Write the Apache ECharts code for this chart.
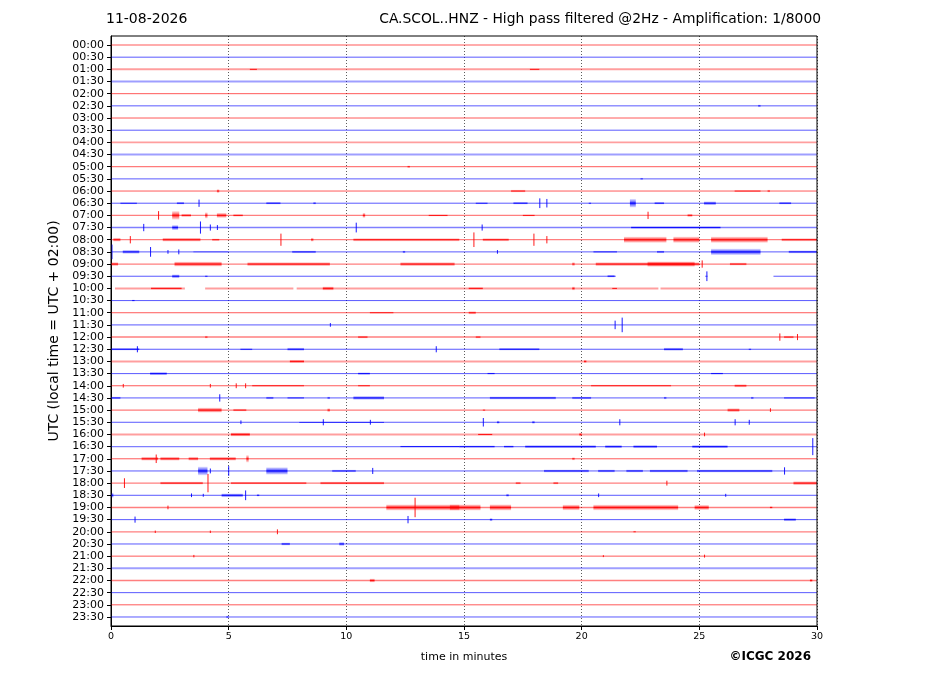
<!DOCTYPE html>
<html>
<head>
<meta charset="utf-8">
<script src="https://cdn.jsdelivr.net/npm/echarts@6/dist/echarts.min.js"></script>
<style>
html,body{margin:0;padding:0;background:#fff;}
#chart{width:927px;height:696px;}
</style>
</head>
<body>
<div id="chart"></div>
<script>
// ---------- data ----------
const dateLabel = '11-08-2026';
const titleText = 'CA.SCOL..HNZ - High pass filtered @2Hz - Amplification: 1/8000';
const rowLabels = ['00:00','00:30','01:00','01:30','02:00','02:30','03:00','03:30','04:00','04:30','05:00','05:30',
  '06:00','06:30','07:00','07:30','08:00','08:30','09:00','09:30','10:00','10:30','11:00','11:30',
  '12:00','12:30','13:00','13:30','14:00','14:30','15:00','15:30','16:00','16:30','17:00','17:30',
  '18:00','18:30','19:00','19:30','20:00','20:30','21:00','21:30','22:00','22:30','23:00','23:30'];
const xTicks = [0, 5, 10, 15, 20, 25, 30];
// background noise level of each trace (row units)
const noiseLevel = [0.03,0.03,0.08,0.08,0.03,0.03,0.03,0.03,0.08,0.08,0.03,0.04,
  0.04,0.04,0.06,0.06,0.05,0.04,0.05,0.04,0.08,0.04,0.04,0.04,
  0.06,0.04,0.08,0.04,0.04,0.04,0.04,0.04,0.08,0.05,0.04,0.04,
  0.06,0.04,0.06,0.04,0.05,0.04,0.04,0.08,0.06,0.03,0.03,0.04];
// data gaps: [row, start min, end min]
const gaps = [
  ['09:30', 21.45, 25.25], ['09:30', 25.35, 28.15],
  ['10:00', 0, 0.17], ['10:00', 3.14, 4.0], ['10:00', 7.75, 7.89], ['10:00', 23.26, 23.35]
];
// signal bursts: [row, start min, end min, half amplitude in row units]
const bursts = [
  ['01:00',5.9,6.2,0.08],['01:00',17.8,18.2,0.08],
  ['02:30',27.5,27.6,0.1],
  ['05:00',12.6,12.7,0.1],['05:30',22.5,22.6,0.08],
  ['06:00',4.5,4.6,0.15],['06:00',17.0,17.6,0.1],['06:00',26.5,27.6,0.08],['06:00',27.9,28.0,0.1],
  ['06:30',0.4,1.1,0.08],['06:30',2.8,3.1,0.1],['06:30',3.72,3.72,0.3],['06:30',6.6,7.2,0.1],['06:30',8.6,8.7,0.1],
  ['06:30',15.5,16.0,0.08],['06:30',17.1,17.7,0.1],['06:30',18.2,18.2,0.4],['06:30',18.5,18.5,0.35],['06:30',20.3,20.4,0.08],
  ['06:30',22.05,22.3,0.35],['06:30',23.1,23.5,0.1],['06:30',25.2,25.7,0.15],['06:30',28.4,28.9,0.1],
  ['07:00',2.0,2.0,0.35],['07:00',2.6,2.9,0.35],['07:00',3.0,3.4,0.12],['07:00',4.0,4.1,0.25],['07:00',4.5,4.9,0.2],
  ['07:00',5.2,5.6,0.1],['07:00',10.7,10.8,0.2],['07:00',13.5,14.3,0.08],['07:00',17.5,18.0,0.08],['07:00',22.8,22.8,0.3],['07:00',24.5,24.7,0.12],
  ['07:30',1.37,1.37,0.3],['07:30',2.6,2.85,0.2],['07:30',3.78,3.78,0.5],['07:30',4.2,4.2,0.25],['07:30',4.5,4.55,0.2],
  ['07:30',10.4,10.4,0.4],['07:30',15.75,15.8,0.25],['07:30',22.1,25.9,0.1],
  ['08:00',0.1,0.4,0.15],['08:00',0.8,0.8,0.3],['08:00',2.2,3.8,0.15],['08:00',4.3,4.6,0.1],['08:00',7.2,7.2,0.5],
  ['08:00',8.5,8.6,0.15],['08:00',10.3,14.8,0.12],['08:00',15.4,15.4,0.6],['08:00',15.8,16.9,0.12],['08:00',17.95,17.95,0.5],
  ['08:00',18.5,18.5,0.3],['08:00',21.8,23.6,0.25],['08:00',23.9,25.0,0.25],['08:00',25.5,27.9,0.25],['08:00',28.5,30,0.12],
  ['08:30',0.02,0.02,0.6],['08:30',0.5,1.2,0.15],['08:30',1.66,1.66,0.4],['08:30',2.4,2.45,0.15],['08:30',2.86,2.86,0.2],
  ['08:30',3.5,5.0,0.06],['08:30',7.7,8.7,0.1],['08:30',12.4,12.5,0.1],['08:30',16.4,16.4,0.15],['08:30',20.5,21.5,0.08],
  ['08:30',23.2,23.5,0.1],['08:30',25.5,27.6,0.25],['08:30',28.8,30,0.12],
  ['09:00',0.0,0.3,0.15],['09:00',2.7,4.7,0.2],['09:00',5.8,9.3,0.15],['09:00',12.3,14.6,0.15],['09:00',19.6,19.7,0.15],
  ['09:00',20.6,25.0,0.15],['09:00',22.8,24.8,0.22],['09:00',25.1,25.1,0.3],['09:00',26.3,27.0,0.12],
  ['09:30',2.6,2.9,0.15],['09:30',4.0,4.1,0.08],['09:30',21.1,21.4,0.1],['09:30',25.3,25.3,0.4],
  ['10:00',1.7,3.0,0.1],['10:00',9.0,9.45,0.15],['10:00',15.2,15.8,0.1],['10:00',19.6,19.7,0.15],['10:00',21.3,21.5,0.08],
  ['10:30',0.9,1.0,0.08],
  ['11:00',11.0,12.0,0.08],['11:00',15.2,15.5,0.12],
  ['11:30',9.3,9.35,0.15],['11:30',21.4,21.4,0.35],['11:30',21.7,21.7,0.6],
  ['12:00',4.0,4.1,0.1],['12:00',10.5,10.9,0.1],['12:00',15.5,15.7,0.1],['12:00',28.4,28.45,0.3],['12:00',28.6,29.0,0.1],['12:00',29.15,29.2,0.25],
  ['12:30',0.0,1.2,0.1],['12:30',1.1,1.1,0.25],['12:30',5.5,6.0,0.08],['12:30',7.5,8.2,0.12],['12:30',13.8,13.8,0.25],
  ['12:30',16.5,18.2,0.1],['12:30',23.5,24.3,0.12],['12:30',27.1,27.2,0.08],
  ['13:00',7.6,8.2,0.12],['13:00',20.1,20.2,0.12],
  ['13:30',1.66,2.37,0.12],['13:30',10.5,11.0,0.1],['13:30',16.0,16.3,0.08],['13:30',25.5,26.0,0.08],
  ['14:00',0.5,0.55,0.15],['14:00',4.2,4.2,0.15],['14:00',5.3,5.3,0.2],['14:00',5.7,5.7,0.2],['14:00',6.0,8.2,0.08],
  ['14:00',10.5,11.0,0.08],['14:00',20.4,23.8,0.08],['14:00',26.5,27.0,0.12],
  ['14:30',0.0,0.4,0.1],['14:30',4.6,4.6,0.3],['14:30',6.6,6.9,0.1],['14:30',7.5,8.2,0.08],['14:30',9.2,9.3,0.1],
  ['14:30',10.3,11.6,0.15],['14:30',16.1,18.9,0.12],['14:30',19.6,20.4,0.1],['14:30',23.5,23.6,0.1],['14:30',27.2,27.3,0.1],['14:30',28.6,29.9,0.08],
  ['15:00',3.7,4.7,0.2],['15:00',5.2,5.75,0.1],['15:00',9.2,9.3,0.15],['15:00',15.8,15.9,0.08],['15:00',26.2,26.7,0.15],['15:00',28.0,28.05,0.15],
  ['15:30',5.5,5.55,0.15],['15:30',8.0,11.6,0.06],['15:30',9.0,9.0,0.25],['15:30',11.0,11.0,0.2],['15:30',15.8,15.8,0.35],
  ['15:30',16.4,16.5,0.12],['15:30',17.9,18.0,0.12],['15:30',21.6,21.6,0.25],['15:30',26.5,26.5,0.25],['15:30',27.1,27.15,0.2],
  ['16:00',5.1,5.9,0.15],['16:00',15.6,16.2,0.08],['16:00',19.9,20.0,0.15],['16:00',25.2,25.2,0.15],
  ['16:30',12.3,14.8,0.08],['16:30',14.8,16.3,0.1],['16:30',16.7,17.1,0.1],['16:30',17.6,20.6,0.12],['16:30',21.0,21.7,0.12],
  ['16:30',22.2,23.2,0.12],['16:30',24.7,26.2,0.12],['16:30',29.8,29.8,0.7],
  ['17:00',1.3,2.0,0.15],['17:00',2.1,2.9,0.15],['17:00',1.9,1.9,0.35],['17:00',3.3,3.7,0.15],['17:00',4.2,5.3,0.15],['17:00',5.75,5.85,0.3],['17:00',19.6,19.7,0.12],
  ['17:30',3.7,4.1,0.35],['17:30',4.2,4.25,0.2],['17:30',4.98,4.98,0.4],['17:30',6.6,7.5,0.3],['17:30',9.4,10.4,0.1],
  ['17:30',11.1,11.1,0.25],['17:30',18.4,20.3,0.12],['17:30',20.7,21.4,0.12],['17:30',21.9,22.6,0.12],['17:30',22.9,24.5,0.12],
  ['17:30',24.9,28.1,0.12],['17:30',28.6,28.6,0.3],
  ['18:00',0.55,0.55,0.4],['18:00',2.1,3.9,0.12],['18:00',4.1,4.1,0.75],['18:00',5.1,8.3,0.1],['18:00',8.9,11.6,0.12],
  ['18:00',17.2,17.4,0.1],['18:00',18.8,19.0,0.1],['18:00',23.6,23.6,0.2],['18:00',29.0,30,0.15],
  ['18:30',0.0,0.1,0.2],['18:30',3.4,3.45,0.15],['18:30',3.9,3.95,0.12],['18:30',4.7,5.6,0.15],['18:30',5.7,5.7,0.4],
  ['18:30',6.2,6.3,0.1],['18:30',16.8,16.9,0.12],['18:30',20.7,20.75,0.15],['18:30',26.1,26.15,0.12],
  ['19:00',2.4,2.45,0.15],['19:00',11.7,14.8,0.25],['19:00',12.9,12.9,0.8],['19:00',14.4,15.7,0.25],['19:00',16.1,17.0,0.25],
  ['19:00',19.2,19.9,0.22],['19:00',20.5,24.1,0.22],['19:00',24.8,25.4,0.2],['19:00',28.0,28.1,0.1],
  ['19:30',1.0,1.0,0.25],['19:30',12.6,12.6,0.3],['19:30',16.1,16.2,0.12],['19:30',28.6,29.1,0.12],
  ['20:00',1.86,1.9,0.1],['20:00',4.2,4.25,0.1],['20:00',7.05,7.05,0.2],['20:00',22.2,22.3,0.08],
  ['20:30',7.25,7.6,0.12],['20:30',9.7,9.9,0.15],
  ['21:00',3.5,3.55,0.1],['21:00',20.9,20.95,0.08],['21:00',25.2,25.25,0.12],
  ['22:00',11.0,11.2,0.15],['22:00',29.7,29.8,0.12],
  ['23:30',4.9,5.0,0.1]
];

// ---------- build ----------
const traceRGB = [[255, 0, 0], [0, 0, 255]];
const rgba = (c, a) => 'rgba(' + c[0] + ',' + c[1] + ',' + c[2] + ',' + a + ')';
const rowIdx = l => rowLabels.indexOf(l);

// baseline segments (full 0-30 minus gaps)
const segData = [];
rowLabels.forEach((lab, i) => {
  const g = gaps.filter(x => x[0] === lab).map(x => [x[1], x[2]]).sort((a, b) => a[0] - b[0]);
  let s = 0;
  g.forEach(([a, b]) => { if (a > s) segData.push([s, a, i, noiseLevel[i]]); s = Math.max(s, b); });
  if (s < 30) segData.push([s, 30, i, noiseLevel[i]]);
});
const burstData = bursts.map(b => [b[1], b[2], rowIdx(b[0]), b[3]]);

const chart = echarts.init(document.getElementById('chart'), null, {renderer: 'canvas'});

function renderSeg(params, api) {
  const t0 = api.value(0), t1 = api.value(1), r = api.value(2), n = api.value(3);
  const p0 = api.coord([t0, r]), p1 = api.coord([t1, r]);
  const rowPx = Math.abs(api.coord([0, 1])[1] - api.coord([0, 0])[1]);
  const w = Math.max(1, 2 * n * rowPx);
  const op = n > 0.065 ? 0.38 : (n > 0.045 ? 0.5 : 0.65);
  return {
    type: 'line',
    shape: {x1: p0[0], y1: p0[1], x2: p1[0], y2: p1[1]},
    style: {stroke: rgba(traceRGB[r % 2], 1), lineWidth: w, opacity: op}
  };
}
function renderBurst(params, api) {
  const t0 = api.value(0), t1 = api.value(1), r = api.value(2), a = api.value(3);
  const pA = api.coord([t0, r - a]), pB = api.coord([t1, r + a]);
  const c = traceRGB[r % 2];
  const x = Math.min(pA[0], pB[0]);
  const wRaw = Math.abs(pB[0] - pA[0]);
  const y = Math.min(pA[1], pB[1]);
  const h = Math.abs(pB[1] - pA[1]);
  if (wRaw < 1.5) {
    return {
      type: 'line',
      shape: {x1: x + 0.5, y1: y, x2: x + 0.5, y2: y + h},
      style: {stroke: rgba(c, 0.9), lineWidth: 1}
    };
  }
  return {
    type: 'rect',
    shape: {x: x, y: y, width: wRaw, height: h},
    style: {
      fill: new echarts.graphic.LinearGradient(0, 0, 0, 1, [
        {offset: 0, color: rgba(c, 0.1)},
        {offset: 0.3, color: rgba(c, 0.5)},
        {offset: 0.5, color: rgba(c, 0.9)},
        {offset: 0.7, color: rgba(c, 0.5)},
        {offset: 1, color: rgba(c, 0.1)}
      ])
    }
  };
}

const option = {
  animation: false,
  backgroundColor: '#ffffff',
  grid: {left: 111, right: 110, top: 36, bottom: 70, outerBoundsMode: 'none', show: false},
  xAxis: {
    type: 'value', min: 0, max: 30, interval: 5,
    name: 'time in minutes', nameLocation: 'middle', nameGap: 26,
    nameTextStyle: {fontFamily: 'DejaVu Sans', fontSize: 11, color: '#000'},
    axisLine: {show: true, onZero: false, lineStyle: {color: '#000', width: 1}},
    axisTick: {show: true, inside: false, length: 4, lineStyle: {color: '#000'}},
    axisLabel: {fontFamily: 'DejaVu Sans', fontSize: 9.5, color: '#000', margin: 6,
      formatter: v => xTicks.indexOf(v) >= 0 ? String(v) : ''},
    splitLine: {show: true, lineStyle: {color: '#333', width: 0.8, type: [1, 2]}}
  },
  yAxis: {
    type: 'value', inverse: true, min: -0.74, max: 47.74,
    name: 'UTC (local time = UTC + 02:00)', nameLocation: 'middle', nameGap: 47, nameRotate: 90,
    nameTextStyle: {fontFamily: 'DejaVu Sans', fontSize: 14, color: '#000'},
    axisLine: {show: true, onZero: false, lineStyle: {color: '#000', width: 1}},
    axisTick: {show: true, length: 4, lineStyle: {color: '#000'}, customValues: rowLabels.map((l, i) => i)},
    axisLabel: {fontFamily: 'DejaVu Sans', fontSize: 11, color: '#000', margin: 7,
      customValues: rowLabels.map((l, i) => i), formatter: v => rowLabels[Math.round(v)] || ''},
    splitLine: {show: false}
  },
  graphic: [
    {type: 'rect', z: 100, silent: true, shape: {x: 111, y: 36, width: 706, height: 590},
      style: {fill: 'none', stroke: '#000', lineWidth: 1}},
    {type: 'text', left: 106, top: 12, style: {text: dateLabel, fontFamily: 'DejaVu Sans', fontSize: 14, fill: '#000'}},
    {type: 'text', right: 106, top: 12, style: {text: titleText, fontFamily: 'DejaVu Sans', fontSize: 13.85, fill: '#000', textAlign: 'right'}},
    {type: 'text', right: 116, top: 651, style: {text: '©ICGC 2026', fontFamily: 'DejaVu Sans', fontWeight: 'bold', fontSize: 12, fill: '#000', textAlign: 'right'}}
  ],
  series: [
    {type: 'custom', renderItem: renderSeg, data: segData, encode: {x: [0, 1], y: 2}, clip: true, silent: true, z: 2},
    {type: 'custom', renderItem: renderBurst, data: burstData, encode: {x: [0, 1], y: 2}, clip: true, silent: true, z: 3}
  ]
};
chart.setOption(option);
</script>
</body>
</html>
